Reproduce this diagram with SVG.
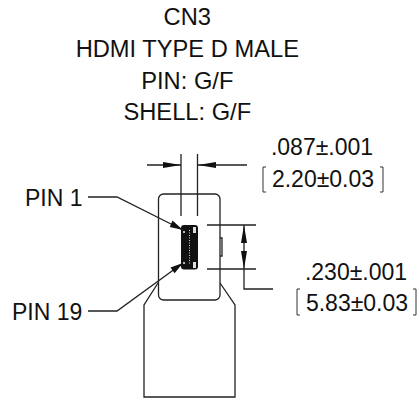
<svg xmlns="http://www.w3.org/2000/svg" width="418" height="399" viewBox="0 0 418 399">
<style>
text{font-family:"Liberation Sans",Arial,sans-serif;font-size:23.700px;fill:#111}
.b{font-size:23px}
.m{text-anchor:middle}
.l{fill:none;stroke:#222;stroke-width:1.3}
.k{fill:none;stroke:#333;stroke-width:1}
.a{fill:#111;stroke:none}
</style>
<rect width="418" height="399" fill="#fff"/>
<g id="title">
<text class="m" x="187.300" y="25">CN3</text>
<text class="m" x="187.300" y="57">HDMI TYPE D MALE</text>
<text class="m" x="187.300" y="88.500">PIN: G/F</text>
<text class="m" x="187.300" y="120">SHELL: G/F</text>
</g>
<g id="body">
<path class="l" d="M163.500 194H215a5 5 0 0 1 5 5V295a5 5 0 0 1-5 5H163.500a5 5 0 0 1-5-5V199a5 5 0 0 1 5-5Z"/>
<path class="l" d="M220 238h2v18h-2"/>
</g>
<g id="cable">
<path class="l" d="M158 283L144 305V397H235V305L220 283"/>
</g>
<g id="connector">
<rect x="181" y="225" width="17" height="44.500" rx="3" fill="#111"/>
<path d="M189.500 230V265" stroke="#ddd" stroke-width="1" stroke-dasharray="1 1.500"/>
<rect x="193" y="227" width="3" height="6" fill="#ddd"/>
<rect x="193" y="262" width="3" height="6" fill="#ddd"/>
<rect x="183" y="231" width="2" height="2" fill="#bbb"/>
<rect x="183" y="262" width="2" height="2" fill="#bbb"/>
</g>
<g id="connectors">
<path class="l" d="M181 154V216M197.500 154V216M147 165H181M198 165H247"/>
<path class="a" d="M181 165L163 162V168ZM198 165L216 162V168Z"/>
<path class="l" d="M207 225H256M207 269H256M244 225V289H273"/>
<path class="a" d="M244 225L241 243H247ZM244 269L241 251H247Z"/>
<path class="l" d="M88 197H117L183 230M88 311H117L183 263"/>
<path class="a" d="M183 230L172.500 220.500L169.800 226.900ZM183 263L170.500 267.500L174.600 273.200Z"/>
</g>
<g id="labels">
<text class="b" x="25" y="206">PIN 1</text>
<text class="b" x="12" y="320">PIN 19</text>
<text class="m b" x="322" y="155">.087±.001</text>
<text class="m b" x="323" y="187">2.20±0.03</text>
<path class="k" d="M266 167H263V192H266M380 167H383V192H380"/>
<text class="m b" x="356" y="280">.230±.001</text>
<text class="m b" x="357" y="311">5.83±0.03</text>
<path class="k" d="M300 289H297V315H300M413 289H416V315H413"/>
</g>
</svg>
